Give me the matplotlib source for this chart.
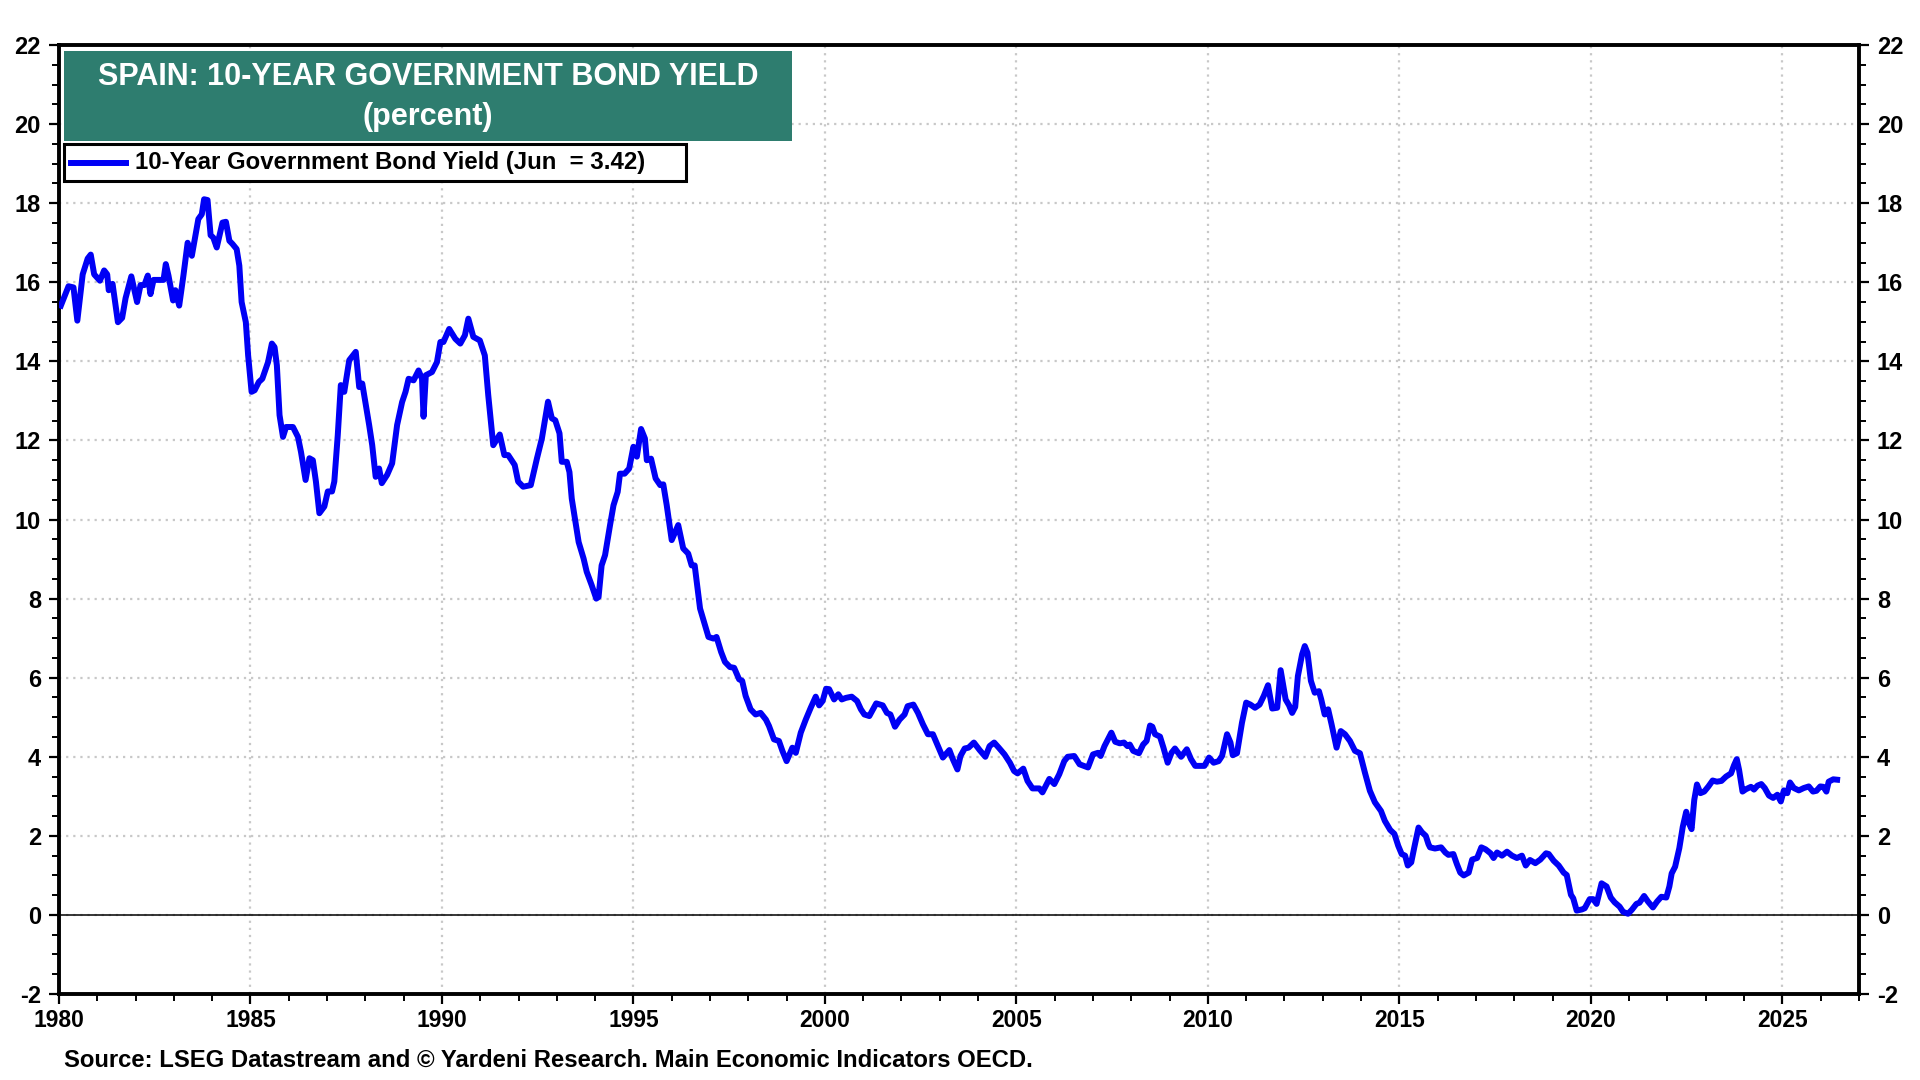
import matplotlib
matplotlib.use("Agg")
import matplotlib.pyplot as plt
from matplotlib.patches import Rectangle
from matplotlib.lines import Line2D
from matplotlib.ticker import MultipleLocator

plt.rcParams['font.family'] = ['Liberation Sans', 'DejaVu Sans']
plt.rcParams['font.weight'] = 'bold'
plt.rcParams['axes.unicode_minus'] = False

# Spain 10-year government bond yield (decimal year, percent)
dates_80s = [1980.05, 1980.25, 1980.38, 1980.48, 1980.62, 1980.75, 1980.83, 1980.92,
             1981.07, 1981.18, 1981.26, 1981.3, 1981.4, 1981.54, 1981.65, 1981.74, 1981.89,
             1982.04, 1982.13, 1982.23, 1982.32, 1982.39, 1982.47, 1982.73, 1982.79, 1982.86, 1982.98,
             1983.04, 1983.14, 1983.25, 1983.36, 1983.47, 1983.64, 1983.73, 1983.79, 1983.88, 1983.96,
             1984.03, 1984.12, 1984.27, 1984.36, 1984.45, 1984.53, 1984.64, 1984.71, 1984.77, 1984.88, 1984.94,
             1985.03, 1985.11, 1985.22, 1985.31, 1985.46, 1985.56, 1985.63, 1985.69, 1985.76, 1985.85, 1985.93,
             1986.11, 1986.24, 1986.32, 1986.44, 1986.54, 1986.63, 1986.71, 1986.8, 1986.93,
             1987.02, 1987.13, 1987.19, 1987.28, 1987.36, 1987.45, 1987.58, 1987.75, 1987.84, 1987.92,
             1988.1, 1988.18, 1988.27, 1988.36, 1988.43, 1988.57, 1988.7, 1988.83, 1988.96,
             1989.05, 1989.13, 1989.26, 1989.39, 1989.48, 1989.52, 1989.58, 1989.74, 1989.87, 1989.96]
yield_80s = [15.41, 15.9, 15.87, 15.03, 16.2, 16.6, 16.7, 16.2,
             16.04, 16.3, 16.2, 15.8, 15.96, 14.99, 15.1, 15.6, 16.15,
             15.5, 15.93, 15.93, 16.17, 15.7, 16.06, 16.06, 16.46, 16.17, 15.54,
             15.8, 15.41, 16.17, 17.0, 16.67, 17.6, 17.72, 18.1, 18.08, 17.19,
             17.13, 16.88, 17.51, 17.53, 17.05, 16.97, 16.84, 16.42, 15.5, 14.99, 14.15,
             13.23, 13.27, 13.48, 13.56, 13.98, 14.45, 14.36, 13.9, 12.64, 12.09, 12.34,
             12.34, 12.09, 11.71, 11.0, 11.55, 11.5, 10.96, 10.16, 10.33,
             10.71, 10.71, 10.96, 12.13, 13.4, 13.23, 14.03, 14.24, 13.35, 13.44,
             12.39, 11.88, 11.08, 11.29, 10.92, 11.13, 11.42, 12.39, 12.97,
             13.23, 13.56, 13.52, 13.77, 13.56, 12.6, 13.65, 13.73, 13.98, 14.49]

dates_90s = [1990.04, 1990.19, 1990.35, 1990.48, 1990.6, 1990.69, 1990.82, 1990.99,
             1991.12, 1991.21, 1991.34, 1991.51, 1991.63, 1991.73, 1991.9, 1991.99,
             1992.12, 1992.32, 1992.48, 1992.61, 1992.77, 1992.87, 1992.96,
             1993.07, 1993.13, 1993.26, 1993.33, 1993.39, 1993.57, 1993.7, 1993.78, 1993.91,
             1994.03, 1994.09, 1994.17, 1994.26, 1994.39, 1994.48, 1994.59, 1994.65, 1994.77, 1994.89,
             1995.0, 1995.09, 1995.2, 1995.3, 1995.35, 1995.46, 1995.58, 1995.7, 1995.78, 1995.87,
             1996.0, 1996.17, 1996.3, 1996.43, 1996.52, 1996.6, 1996.74, 1996.96,
             1997.09, 1997.17, 1997.29, 1997.39, 1997.52, 1997.63, 1997.76, 1997.84, 1997.93,
             1998.06, 1998.19, 1998.32, 1998.46, 1998.54, 1998.67, 1998.8, 1998.89,
             1999.0, 1999.15, 1999.24, 1999.37, 1999.5, 1999.63, 1999.76, 1999.85, 1999.94]
yield_90s = [14.49, 14.82, 14.57, 14.45, 14.66, 15.08, 14.62, 14.53,
             14.15, 13.14, 11.88, 12.15, 11.63, 11.63, 11.38, 10.96,
             10.83, 10.87, 11.54, 12.05, 12.98, 12.56, 12.51,
             12.18, 11.46, 11.46, 11.2, 10.53, 9.43, 9.01, 8.68, 8.34,
             8.0, 8.04, 8.84, 9.1, 9.86, 10.36, 10.7, 11.16, 11.16, 11.29,
             11.84, 11.59, 12.29, 12.05, 11.5, 11.54, 11.04, 10.87, 10.89, 10.36,
             9.48, 9.86, 9.27, 9.14, 8.84, 8.84, 7.75, 7.03,
             6.99, 7.03, 6.65, 6.4, 6.27, 6.25, 5.96, 5.92, 5.54,
             5.2, 5.07, 5.11, 4.94, 4.78, 4.44, 4.4, 4.15,
             3.89, 4.23, 4.1, 4.61, 4.94, 5.24, 5.52, 5.3, 5.41]

dates_00s = [2000.03, 2000.11, 2000.24, 2000.35, 2000.44, 2000.55, 2000.7, 2000.84, 2000.94,
             2001.03, 2001.16, 2001.34, 2001.51, 2001.62, 2001.71, 2001.83, 2001.95,
             2002.08, 2002.16, 2002.31, 2002.43, 2002.56, 2002.69, 2002.82, 2002.97,
             2003.08, 2003.25, 2003.34, 2003.46, 2003.54, 2003.65, 2003.75, 2003.89,
             2004.04, 2004.19, 2004.3, 2004.42, 2004.54, 2004.69, 2004.83, 2004.94,
             2005.03, 2005.18, 2005.29, 2005.42, 2005.6, 2005.68, 2005.86, 2005.99,
             2006.12, 2006.25, 2006.34, 2006.51, 2006.65, 2006.73, 2006.87,
             2007.0, 2007.13, 2007.2, 2007.3, 2007.39, 2007.48, 2007.58, 2007.7, 2007.81, 2007.9, 2007.96,
             2008.05, 2008.2, 2008.31, 2008.4, 2008.49, 2008.55, 2008.62, 2008.75, 2008.84, 2008.95,
             2009.05, 2009.14, 2009.3, 2009.45, 2009.56, 2009.67, 2009.8, 2009.91]
yield_00s = [5.72, 5.71, 5.45, 5.58, 5.45, 5.49, 5.52, 5.41, 5.2,
             5.07, 5.03, 5.35, 5.3, 5.11, 5.07, 4.76, 4.94,
             5.07, 5.28, 5.32, 5.11, 4.82, 4.57, 4.57, 4.23,
             3.98, 4.17, 3.94, 3.68, 4.02, 4.21, 4.23, 4.36,
             4.17, 4.0, 4.27, 4.36, 4.23, 4.06, 3.85, 3.64,
             3.58, 3.7, 3.39, 3.2, 3.2, 3.1, 3.44, 3.31,
             3.56, 3.89, 4.0, 4.02, 3.81, 3.78, 3.73,
             4.06, 4.1, 4.02, 4.27, 4.44, 4.61, 4.38, 4.34, 4.36, 4.27, 4.31,
             4.15, 4.09, 4.31, 4.4, 4.79, 4.76, 4.57, 4.51, 4.23, 3.85,
             4.1, 4.21, 4.0, 4.19, 3.94, 3.77, 3.77, 3.77]

dates_10s = [2010.03, 2010.15, 2010.28, 2010.37, 2010.5, 2010.59, 2010.65, 2010.76, 2010.89,
             2011.0, 2011.11, 2011.23, 2011.35, 2011.46, 2011.57, 2011.68, 2011.81, 2011.9,
             2012.03, 2012.12, 2012.2, 2012.28, 2012.35, 2012.46, 2012.53, 2012.6, 2012.69, 2012.79, 2012.9, 2012.96,
             2013.05, 2013.14, 2013.23, 2013.36, 2013.47, 2013.58, 2013.71, 2013.84, 2013.97,
             2014.1, 2014.23, 2014.36, 2014.52, 2014.62, 2014.76, 2014.87, 2014.97,
             2015.06, 2015.15, 2015.22, 2015.31, 2015.39, 2015.5, 2015.59, 2015.69, 2015.76, 2015.8, 2015.93,
             2016.09, 2016.2, 2016.28, 2016.41, 2016.5, 2016.59, 2016.68, 2016.81, 2016.9,
             2017.03, 2017.14, 2017.25, 2017.38, 2017.46, 2017.55, 2017.68, 2017.81, 2017.94,
             2018.07, 2018.2, 2018.3, 2018.41, 2018.55, 2018.68, 2018.83, 2018.9,
             2019.03, 2019.16, 2019.29, 2019.37, 2019.48, 2019.54, 2019.63, 2019.77, 2019.84, 2019.97]
yield_10s = [3.98, 3.85, 3.89, 4.02, 4.57, 4.36, 4.04, 4.09, 4.86,
             5.37, 5.32, 5.24, 5.32, 5.54, 5.81, 5.22, 5.24, 6.19,
             5.45, 5.3, 5.11, 5.26, 6.04, 6.59, 6.8, 6.63, 5.92, 5.62, 5.66, 5.45,
             5.07, 5.2, 4.82, 4.23, 4.65, 4.57, 4.4, 4.15, 4.09,
             3.6, 3.14, 2.85, 2.63, 2.38, 2.15, 2.05, 1.75,
             1.54, 1.5, 1.25, 1.33, 1.71, 2.21, 2.09, 2.0, 1.79, 1.71, 1.68,
             1.71, 1.58, 1.52, 1.54, 1.29, 1.07, 1.0, 1.07, 1.4,
             1.44, 1.71, 1.66, 1.56, 1.44, 1.58, 1.5, 1.6, 1.5,
             1.44, 1.5, 1.25, 1.39, 1.31, 1.4, 1.56, 1.54,
             1.37, 1.25, 1.07, 1.01, 0.51, 0.42, 0.11, 0.14, 0.17, 0.4]

dates_20s = [2020.06, 2020.15, 2020.28, 2020.41, 2020.52, 2020.62, 2020.75, 2020.84, 2020.97,
             2021.07, 2021.19, 2021.27, 2021.39, 2021.49, 2021.62, 2021.73, 2021.84, 2021.97,
             2022.05, 2022.11, 2022.2, 2022.31, 2022.4, 2022.49, 2022.57, 2022.63, 2022.7, 2022.77, 2022.86, 2022.96,
             2023.07, 2023.18, 2023.29, 2023.41, 2023.53, 2023.66, 2023.74, 2023.81, 2023.87, 2023.96,
             2024.05, 2024.18, 2024.26, 2024.35, 2024.45, 2024.54, 2024.65, 2024.76, 2024.87, 2024.96,
             2025.04, 2025.13, 2025.2, 2025.3, 2025.43, 2025.56, 2025.69, 2025.8, 2025.89, 2025.99,
             2026.07, 2026.15, 2026.21, 2026.33, 2026.43]
yield_20s = [0.4, 0.28, 0.8, 0.72, 0.44, 0.32, 0.21, 0.08, 0.03,
             0.13, 0.28, 0.31, 0.48, 0.34, 0.19, 0.34, 0.46, 0.44,
             0.72, 1.05, 1.22, 1.69, 2.23, 2.61, 2.3, 2.17, 2.91, 3.3, 3.08, 3.12,
             3.25, 3.4, 3.37, 3.39, 3.5, 3.58, 3.79, 3.94, 3.67, 3.12,
             3.18, 3.24, 3.17, 3.27, 3.31, 3.21, 3.02, 2.96, 3.04, 2.87,
             3.15, 3.08, 3.35, 3.21, 3.15, 3.21, 3.25, 3.12, 3.14, 3.25,
             3.24, 3.12, 3.37, 3.43, 3.42]

dates = dates_80s + dates_90s + dates_00s + dates_10s + dates_20s
yields = yield_80s + yield_90s + yield_00s + yield_10s + yield_20s

title_text = "SPAIN: 10-YEAR GOVERNMENT BOND YIELD"
subtitle_text = "(percent)"
legend_text = "10-Year Government Bond Yield (Jun  = 3.42)"
source_text = "Source: LSEG Datastream and \u00a9 Yardeni Research. Main Economic Indicators OECD."

fig = plt.figure(figsize=(19.2, 10.8), dpi=100)
ax = fig.add_axes([0.0307, 0.0796, 0.9375, 0.8787])

ax.plot(dates, yields, color='#0000F5', lw=4.3, solid_joinstyle='round', zorder=3)
ax.axhline(0, color='black', lw=1.1, zorder=2)

ax.set_xlim(1980, 2027)
ax.set_ylim(-2, 22)
ax.xaxis.set_major_locator(MultipleLocator(5))
ax.xaxis.set_minor_locator(MultipleLocator(1))
ax.yaxis.set_major_locator(MultipleLocator(2))
ax.yaxis.set_minor_locator(MultipleLocator(0.5))

ax.grid(True, which='major', color='#c8c8c8', linestyle=(0, (1, 2.2)), lw=1.6, zorder=1)

for s in ax.spines.values():
    s.set_linewidth(2.8)

ax.tick_params(axis='both', which='major', direction='out', length=7, width=1.6,
               labelsize=16.5, pad=4)
ax.tick_params(axis='both', which='minor', direction='out', length=5, width=1.4)
ax.tick_params(axis='y', which='both', left=True, right=True, labelleft=True, labelright=True)
ax.tick_params(axis='y', which='major', labelsize=17, pad=6)
for lbl in ax.get_xticklabels() + ax.get_yticklabels():
    lbl.set_fontweight('bold')

# title box
fig.patches.append(Rectangle((0.0333, 0.8694), 0.379, 0.0834, transform=fig.transFigure,
                             facecolor='#2E7D6F', edgecolor='none', zorder=5))
fig.text(0.2229, 0.9290, title_text, color='white', fontsize=22, fontweight='bold',
         ha='center', va='center', zorder=6)
fig.text(0.2229, 0.8915, subtitle_text, color='white', fontsize=22, fontweight='bold',
         ha='center', va='center', zorder=6)

# legend box
fig.patches.append(Rectangle((0.0333, 0.8324), 0.3240, 0.0343, transform=fig.transFigure,
                             facecolor='white', edgecolor='black', lw=2.2, zorder=5))
fig.lines.append(Line2D([0.037, 0.0656], [0.8495, 0.8495], transform=fig.transFigure,
                        color='#0000F5', lw=4.3, zorder=6))
fig.text(0.0703, 0.8495, legend_text, fontsize=17.3, fontweight='bold',
         ha='left', va='center', zorder=6)

fig.text(0.0333, 0.0185, source_text, fontsize=17.2, fontweight='bold', ha='left', va='center')

fig.savefig('out.png', dpi=100)
